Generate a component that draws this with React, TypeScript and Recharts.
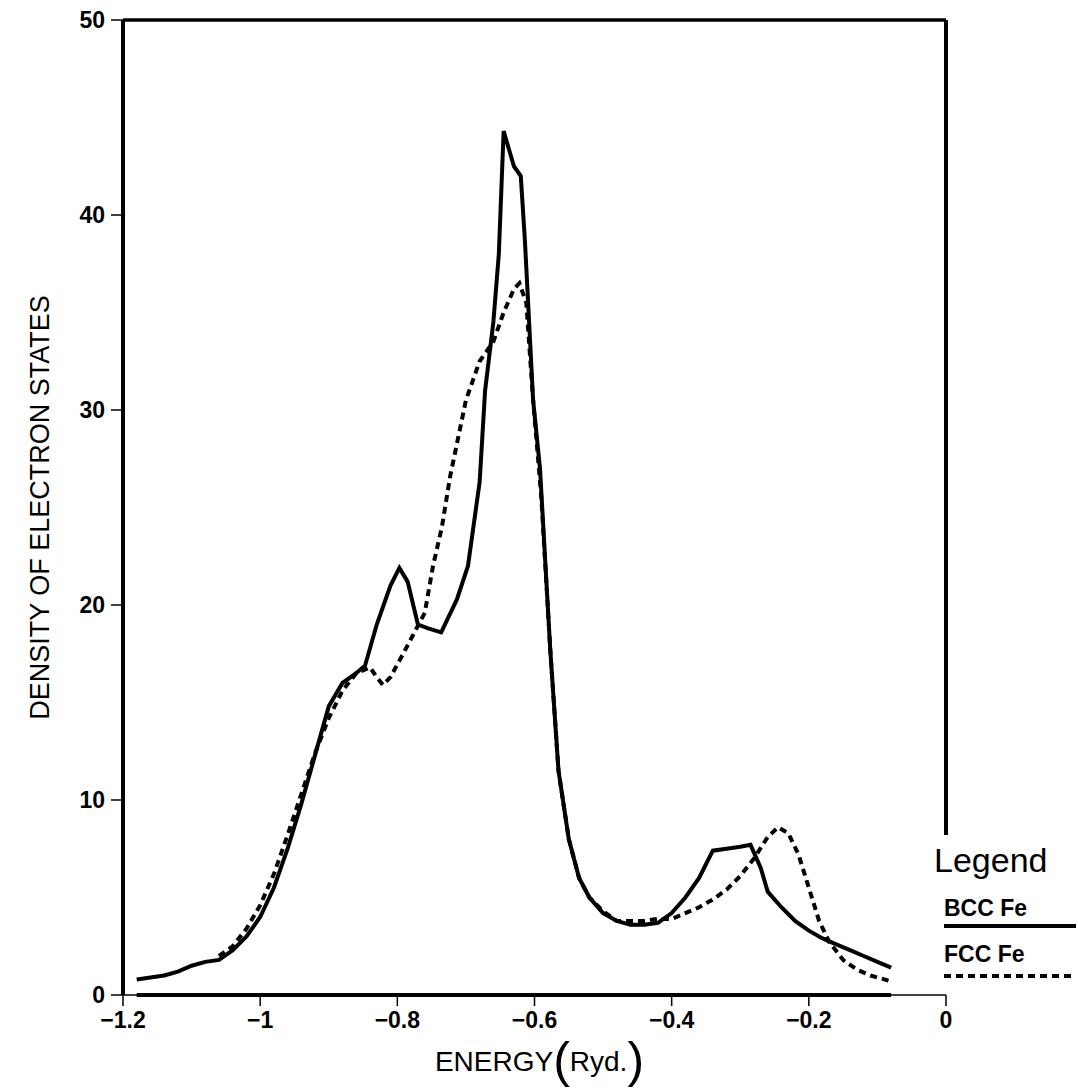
import {
  LineChart,
  Line,
  XAxis,
  YAxis,
  Legend,
  ReferenceLine,
} from "recharts";

// energy (Ryd.) and density of states
const bccEnergy = [
  -1.18, -1.16, -1.14, -1.12, -1.1, -1.08, -1.06, -1.04, -1.02, -1.0, -0.98,
  -0.96, -0.94, -0.92, -0.9, -0.88, -0.86, -0.847, -0.83, -0.81, -0.797,
  -0.785, -0.77, -0.755, -0.736, -0.713, -0.697, -0.68, -0.672, -0.66, -0.652,
  -0.645, -0.63, -0.62, -0.614, -0.602, -0.592, -0.577, -0.565, -0.55, -0.535,
  -0.52, -0.5, -0.48, -0.46, -0.44, -0.42, -0.4, -0.38, -0.36, -0.34, -0.32,
  -0.3, -0.285, -0.27, -0.26, -0.24, -0.22, -0.2, -0.18, -0.16, -0.14, -0.12,
  -0.1, -0.08,
];
const bccDos = [
  0.8, 0.9, 1.0, 1.2, 1.5, 1.7, 1.8, 2.3, 3.0, 4.0, 5.5, 7.5, 9.8, 12.3, 14.8,
  16.0, 16.5, 16.9, 19.0, 21.0, 21.9, 21.2, 19.0, 18.8, 18.6, 20.3, 22.0, 26.3,
  31.0, 34.5, 38.0, 44.3, 42.5, 42.0, 38.7, 30.5, 27.0, 17.7, 11.5, 8.0, 6.0,
  5.0, 4.2, 3.8, 3.6, 3.6, 3.7, 4.2, 5.0, 6.0, 7.4, 7.5, 7.6, 7.7, 6.5, 5.3,
  4.5, 3.8, 3.3, 2.9, 2.6, 2.3, 2.0, 1.7, 1.4,
];

const fccEnergy = [
  -1.06, -1.04, -1.02, -1.0, -0.98, -0.96, -0.94, -0.92, -0.9, -0.88, -0.86,
  -0.84, -0.83, -0.821, -0.81, -0.79, -0.76, -0.748, -0.735, -0.723, -0.7,
  -0.68, -0.66, -0.645, -0.63, -0.622, -0.612, -0.602, -0.59, -0.577, -0.565,
  -0.55, -0.535, -0.52, -0.5, -0.48, -0.46, -0.44, -0.42, -0.4, -0.38, -0.36,
  -0.34, -0.32, -0.3, -0.28, -0.26, -0.245, -0.23, -0.215, -0.2, -0.185, -0.17,
  -0.15, -0.13, -0.11, -0.09, -0.08,
];
const fccDos = [
  2.0, 2.5, 3.4, 4.6, 6.2, 8.2, 10.3, 12.4, 14.2, 15.6, 16.5, 16.8, 16.3, 15.9,
  16.3, 17.6, 19.6, 22.0, 24.0, 26.6, 30.5, 32.5, 33.5, 35.0, 36.2, 36.5, 35.5,
  30.5, 25.5, 17.7, 11.5, 8.0, 6.0, 5.0, 4.3, 3.8, 3.8, 3.8, 3.9, 3.9, 4.2, 4.5,
  4.9, 5.4, 6.1, 7.0, 8.1, 8.6, 8.3, 7.2, 5.5, 3.8, 2.7, 1.8, 1.3, 1.0, 0.8,
  0.7,
];

const xTicks = [-1.2, -1, -0.8, -0.6, -0.4, -0.2, 0];
const yTicks = [0, 10, 20, 30, 40, 50];

const bccData = bccEnergy.map((e, i) => ({ energy: e, dos: bccDos[i] }));
const fccData = fccEnergy.map((e, i) => ({ energy: e, dos: fccDos[i] }));

const FONT = "'Liberation Sans', Arial, sans-serif";
const fmt = (v: number) => String(v).replace("-", "\u2212");

const renderLegend = (props: any) => {
  const { payload = [] } = props;
  return (
    <svg width={148} height={152} style={{ display: "block" }}>
      <text x={4} y={42} fontFamily={FONT} fontSize={34} fill="#000">
        Legend
      </text>
      {payload.map((entry: any, i: number) => (
        <g key={entry.value}>
          <text
            x={14}
            y={86 + i * 46}
            fontFamily={FONT}
            fontSize={23}
            fontWeight="bold"
            fill="#000"
          >
            {entry.value}
          </text>
          <line
            x1={14}
            x2={146}
            y1={96 + i * 50}
            y2={96 + i * 50}
            stroke="#000"
            strokeWidth={4}
            strokeDasharray={entry.payload?.strokeDasharray}
          />
        </g>
      ))}
    </svg>
  );
};

const XLabel = (props: any) => {
  const { viewBox } = props;
  const cx = viewBox.x + viewBox.width / 2 + 5;
  const y = viewBox.y + 76;
  return (
    <text x={cx} y={y} textAnchor="middle" fontFamily={FONT} fontSize={28} fill="#000">
      <tspan>ENERGY</tspan>
      <tspan fontSize={50} dy={6}>(</tspan>
      <tspan fontSize={28} dy={-6}>Ryd.</tspan>
      <tspan fontSize={50} dy={6}>)</tspan>
    </text>
  );
};

const YLabel = (props: any) => {
  const { viewBox } = props;
  const x = viewBox.x + 6;
  const y = viewBox.y + viewBox.height / 2;
  return (
    <text
      x={x}
      y={y}
      transform={`rotate(-90 ${x} ${y})`}
      textAnchor="middle"
      fontFamily={FONT}
      fontSize={27}
      fill="#000"
    >
      DENSITY OF ELECTRON STATES
    </text>
  );
};

const tickStyle = { fontFamily: FONT, fontSize: 23, fontWeight: "bold", fill: "#000" };

export default function App() {
  return (
    <div style={{ position: "absolute", left: 0, top: 0, background: "#fff" }}>
      <LineChart
        width={1078}
        height={1092}
        margin={{ top: 20, right: 132, bottom: 37, left: 43 }}
      >
        <XAxis
          type="number"
          dataKey="energy"
          domain={[-1.2, 0]}
          ticks={xTicks}
          tickFormatter={fmt}
          tick={tickStyle}
          tickSize={11}
          tickMargin={6}
          height={60}
          axisLine={{ stroke: "#000", strokeWidth: 1.5 }}
          tickLine={{ stroke: "#000", strokeWidth: 1.5 }}
          allowDataOverflow
          label={<XLabel />}
        />
        <YAxis
          type="number"
          domain={[0, 50]}
          ticks={yTicks}
          tick={tickStyle}
          tickSize={12}
          tickMargin={6}
          width={80}
          axisLine={{ stroke: "#000", strokeWidth: 4 }}
          tickLine={{ stroke: "#000", strokeWidth: 1.5 }}
          allowDataOverflow
          label={<YLabel />}
        />
        {/* frame: top edge, partial right edge, heavy baseline under data */}
        <ReferenceLine
          segment={[
            { x: -1.2, y: 50 },
            { x: 0, y: 50 },
          ]}
          stroke="#000"
          strokeWidth={3.5}
        />
        <ReferenceLine
          segment={[
            { x: 0, y: 50 },
            { x: 0, y: 8.2 },
          ]}
          stroke="#000"
          strokeWidth={4}
        />
        <ReferenceLine
          segment={[
            { x: -1.18, y: 0 },
            { x: -0.08, y: 0 },
          ]}
          stroke="#000"
          strokeWidth={4}
        />
        <Line
          data={bccData}
          dataKey="dos"
          name="BCC Fe"
          type="linear"
          stroke="#000"
          strokeWidth={4}
          dot={false}
          isAnimationActive={false}
        />
        <Line
          data={fccData}
          dataKey="dos"
          name="FCC Fe"
          type="linear"
          stroke="#000"
          strokeWidth={4}
          strokeDasharray="7 5"
          dot={false}
          isAnimationActive={false}
        />
        <Legend
          layout="horizontal"
          verticalAlign="middle"
          align="center"
          content={renderLegend}
          wrapperStyle={{ left: 930, top: 830, width: 148, height: 152 }}
        />
      </LineChart>
    </div>
  );
}
